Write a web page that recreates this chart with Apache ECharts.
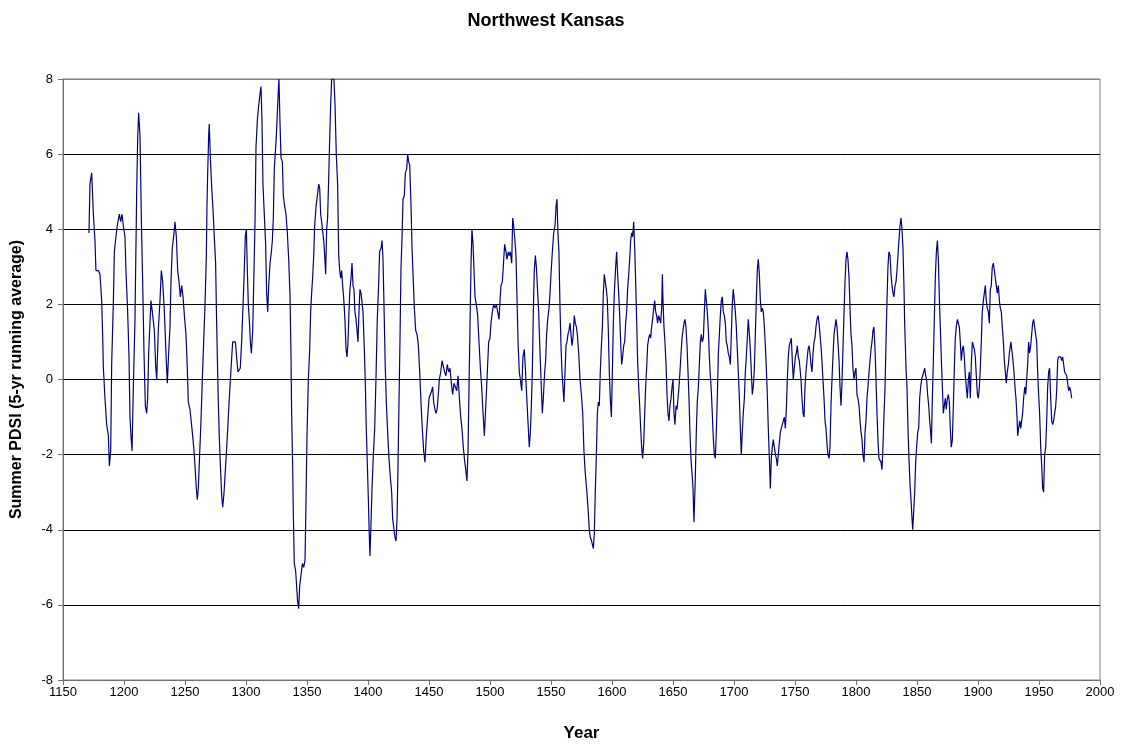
<!DOCTYPE html>
<html>
<head>
<meta charset="utf-8">
<script src="https://cdn.jsdelivr.net/npm/echarts@6/dist/echarts.min.js"></script>
<style>
html,body{margin:0;padding:0;background:#fff;}
#chart{width:1122px;height:747px;}
</style>
</head>
<body>
<div id="chart"></div>
<script>
// Year of each reading
const years = [
1171.3,1172.1,1173.5,1174.9,1176.2,1177.0,1179.0,1180.3,1181.7,1182.5,1183.1,1184.4,1185.8,1187.2,1188.0,1189.1,1189.9,1191.3,1192.1,1193.4,
1194.5,1196.2,1197.3,1198.4,1199.4,1200.8,1201.6,1203.0,1204.1,1204.9,1205.7,1206.6,1207.6,1209.0,1210.4,1211.2,1212.0,1213.1,1214.2,1215.3,
1216.4,1217.5,1218.6,1219.4,1220.2,1221.3,1222.1,1223.2,1224.9,1225.9,1226.8,1228.1,1229.5,1230.6,1231.7,1233.1,1234.4,1235.5,1236.6,1237.7,
1238.5,1239.6,1241.0,1241.8,1242.9,1244.0,1245.1,1246.2,1247.3,1248.4,1249.5,1250.8,1251.9,1252.7,1254.1,1254.9,1256.0,1257.4,1258.2,1259.3,
1260.1,1260.9,1262.0,1263.1,1264.2,1265.3,1266.4,1267.5,1268.0,1268.6,1269.4,1269.9,1270.8,1271.9,1273.0,1274.0,1275.1,1275.7,1276.5,1277.3,
1278.1,1279.0,1280.1,1280.9,1282.0,1283.1,1284.2,1285.2,1286.3,1287.4,1288.3,1289.1,1290.2,1291.3,1292.3,1293.4,1294.5,1295.3,1296.4,1297.5,
1298.6,1299.4,1300.3,1301.1,1301.9,1302.7,1303.6,1304.4,1305.5,1306.3,1307.4,1308.2,1309.3,1310.4,1311.5,1312.3,1313.1,1313.9,1315.0,1316.1,
1316.9,1317.8,1318.6,1319.7,1320.8,1321.6,1322.4,1323.2,
1324.9,1325.7,1326.5,1327.0,1327.9,1328.7,1329.8,1330.6,1331.7,1332.8,1333.9,1335.0,1336.1,1336.9,1337.4,1338.2,1338.8,1339.6,1340.7,1341.5,
1342.3,1343.2,1344.0,1345.1,1346.2,1347.3,1348.4,1349.2,1350.0,1351.1,1352.2,1353.0,1353.8,1354.6,1355.5,1356.3,1357.4,1358.5,1359.6,1360.4,
1361.2,1362.0,1362.8,1363.7,1364.5,1365.3,1366.1,1366.9,1367.8,1368.6,1369.4,1370.2,1371.0,1372.1,1373.0,1374.0,1375.1,1376.0,1376.8,1377.6,
1378.4,1379.2,1380.0,1381.1,1382.0,1382.8,1383.6,1384.4,1385.2,1386.1,1386.9,1387.7,1388.5,1389.3,1390.2,1391.0,1391.8,1392.6,1393.4,1394.3,
1395.1,1395.9,1397.0,1397.8,1398.6,1399.4,1400.3,1401.1,1401.6,1402.2,1403.3,1404.4,1405.5,1406.6,1407.6,1408.7,1409.5,
1410.7,1411.5,1412.3,1413.1,1414.1,1415.0,1416.1,1417.2,1418.3,1419.4,1420.2,1421.3,1422.1,1423.0,1423.8,1424.6,1425.4,1426.2,1427.0,1427.9,
1428.7,1429.8,1430.6,1431.7,1432.5,1433.3,1434.2,1435.2,1436.1,1436.9,1438.0,1439.1,1440.2,1441.3,1442.4,1443.4,1444.5,1445.6,1446.7,1447.8,
1448.9,1450.0,1451.1,1452.2,1453.0,1453.8,1454.9,1455.7,1456.6,1457.4,1458.5,1459.6,1460.7,1461.8,1462.8,1463.9,1465.0,1466.1,1467.2,1468.3,
1469.4,1470.5,1471.6,1472.7,1473.8,1474.9,1476.0,1477.0,1478.1,1479.0,1480.1,1481.1,1482.0,1482.8,1483.6,1484.4,1485.2,1486.1,1486.9,1487.7,
1488.8,1489.9,1491.0,1492.1,1493.2,1494.3,1495.4,
1496.7,1497.8,1498.9,1500.0,1500.8,1501.9,1503.0,1504.1,1505.2,1506.3,1507.4,1508.2,1509.0,1510.1,1510.9,1512.0,1513.1,1513.9,1515.0,1515.8,
1516.7,1517.8,1518.6,1519.4,1520.2,1521.3,1522.1,1523.0,1524.0,1524.9,1526.0,1527.0,1528.1,1529.0,1530.0,1531.1,1532.2,1533.1,1533.9,1534.7,
1535.5,1536.3,1537.2,1538.0,1539.1,1539.9,1540.7,1541.8,1542.9,1543.7,1544.8,1545.6,1546.4,1547.3,1548.4,1549.2,1550.0,1551.1,1552.2,1553.3,
1554.1,1554.9,1555.7,1556.5,1557.4,1558.2,1559.0,1559.8,1560.6,1561.5,1562.3,1563.1,1563.9,1564.7,1565.6,1566.4,1567.2,1568.0,1569.1,1569.9,
1570.8,1571.6,1572.7,1573.8,1574.9,1576.0,1577.0,1578.1,1579.2,1580.3,1581.4,
1582.2,1583.3,1584.7,1585.5,1586.3,1587.2,1588.0,1588.8,1589.6,1590.4,1591.3,1592.1,1592.9,1593.7,1594.5,1595.4,1596.2,1597.0,1597.8,1598.6,
1599.5,1600.3,1601.1,1601.9,1603.0,1603.8,1604.6,1605.5,1606.3,1607.1,1607.9,1608.7,1609.6,1610.4,1611.2,1612.0,1612.8,1613.7,1614.5,1615.3,
1616.1,1616.9,1617.8,1618.6,1619.4,1620.2,1621.0,1621.9,1622.7,1623.5,1624.3,1625.1,1626.0,1626.8,1627.6,1628.4,1629.2,1630.1,1630.9,1631.7,
1632.5,1633.3,1634.2,1635.0,1635.8,1636.6,1637.4,1638.2,1639.1,1639.9,1640.7,1641.3,1641.8,1642.6,1643.4,1644.3,1645.1,1645.9,1646.7,1647.5,
1648.4,1649.2,1650.0,1650.8,1651.6,1652.5,1653.3,1654.1,1654.9,1655.7,1656.6,1657.4,1658.2,1659.0,1659.8,1660.6,1661.5,1662.3,1663.1,1663.9,
1664.7,1665.6,1666.4,1667.2,
1668.3,1669.1,1669.9,1670.8,1671.6,1672.4,1673.2,1674.0,1674.9,1675.7,1676.5,1677.3,1678.1,1679.0,1679.8,1680.6,1681.4,1682.2,1683.1,1683.9,
1684.7,1685.5,1686.3,1687.2,1688.0,1688.8,1689.6,1690.4,1691.2,1692.1,1692.9,1693.7,1694.5,1695.3,1696.2,1697.0,1697.8,1698.6,1699.4,1700.3,
1701.1,1701.9,1702.7,1703.5,1704.4,1705.2,1706.0,1706.8,1707.6,1708.5,1709.3,1710.1,1710.9,1711.7,1712.6,1713.4,1714.2,1715.0,1715.8,1716.7,
1717.5,1718.3,1719.1,1719.9,1720.8,1721.6,1722.4,1723.2,1724.0,1724.9,1725.7,1726.5,1727.3,1728.1,1729.0,1729.8,1730.6,1731.4,1732.2,1733.1,
1733.9,1734.7,1735.5,1736.3,1737.1,1738.0,1738.8,1739.6,1740.4,1741.2,1742.1,1742.9,1743.7,1744.5,1745.3,1746.2,1747.0,1747.8,1748.6,1749.4,
1750.3,1751.1,1751.9,1752.7,1753.5,
1754.1,1754.9,1755.7,1756.6,1757.4,1758.2,1759.0,1759.8,1760.7,1761.5,1762.3,1763.1,1763.9,1764.8,1765.6,1766.4,1767.2,1768.0,1768.9,1769.7,
1770.5,1771.3,1772.1,1772.9,1773.8,1774.6,1775.4,1776.2,1777.0,1777.9,1778.7,1779.5,1780.3,1781.1,1782.0,1782.8,1783.6,1784.4,1785.2,1786.1,
1786.9,1787.7,1788.5,1789.3,1790.2,1791.0,1791.8,1792.6,1793.4,1794.3,1795.1,1795.9,1796.7,1797.5,1798.4,1799.2,1800.0,1800.8,1801.6,1802.5,
1803.3,1804.1,1804.9,1805.7,1806.6,1807.4,1808.2,1809.0,1809.8,1810.7,1811.5,1812.3,1813.1,1813.9,1814.7,1815.6,1816.4,1817.2,1818.0,1818.8,
1819.7,1820.5,1821.3,1822.1,1822.9,1823.8,1824.6,1825.4,1826.2,1827.0,1827.9,1828.7,1829.5,1830.3,1831.1,1832.0,1832.8,1833.6,1834.4,1835.2,
1836.1,1836.9,1837.7,1838.5,1839.3,1839.9,
1841.0,1841.8,1842.6,1843.4,1844.3,1845.1,1845.9,1846.5,1847.3,1848.1,1848.9,1849.7,1850.6,1851.4,1852.2,1853.0,1853.8,1854.6,1855.5,1856.3,
1857.1,1857.9,1858.7,1859.6,1860.4,1861.2,1861.8,1862.6,1863.4,1864.2,1865.0,1865.9,1866.7,1867.5,1868.3,1869.1,1870.0,1870.8,1871.6,1872.4,
1873.2,1874.0,1874.9,1875.7,1876.5,1877.3,1878.1,1879.0,1879.8,1880.6,1881.4,1882.2,1883.1,1883.9,1884.7,1885.5,1886.3,1887.2,1888.0,1888.8,
1889.6,1890.4,1891.3,1892.1,1892.9,1893.7,1894.5,1895.4,1896.2,1897.0,1897.8,1898.6,1899.5,1900.3,1901.1,1901.9,1902.7,1903.5,1904.4,1905.2,
1906.0,1906.8,1907.6,1908.5,1909.3,1910.1,1910.9,1911.7,1912.6,1913.4,1914.2,1915.0,1915.8,1916.7,1917.5,1918.3,1919.1,1919.9,1920.8,1921.6,
1922.4,1923.2,1924.0,1924.9,1925.7,
1926.2,1927.0,1927.9,1928.7,1929.5,1930.3,1931.1,1932.0,1932.5,1933.3,1934.2,1935.0,1935.8,1936.6,1937.4,1938.3,1939.1,1939.9,1940.7,1941.5,
1942.3,1943.2,1944.0,1944.8,1945.6,1946.4,1947.3,1948.1,1948.9,1949.7,1950.5,1951.4,1952.2,1953.0,1953.8,1954.6,1955.5,1956.3,1957.1,1957.9,
1958.7,1959.6,1960.4,1961.2,1962.0,1962.8,1963.7,1964.5,1965.3,1966.1,1966.9,1967.8,1968.6,1969.4,1970.2,1971.0,1971.9,1972.7,1973.5,1974.3,
1975.1,1975.9,1976.8
];

// Summer PDSI, 5-yr running average
const pdsi = [
3.9,5.2,5.5,4.4,3.7,2.9,2.9,2.8,2.1,1.2,0.3,-0.5,-1.2,-1.5,-2.3,-1.9,0.4,2.1,3.4,3.8,
4.1,4.4,4.2,4.4,4.1,3.8,2.9,1.8,0.6,-1.0,-1.5,-1.9,-0.3,1.6,5.0,6.4,7.1,6.5,4.3,2.6,
0.7,-0.7,-0.9,-0.5,0.7,1.5,2.1,1.8,1.3,0.4,0.0,1.3,2.1,2.9,2.6,1.8,0.7,-0.1,0.7,1.4,
2.6,3.5,3.9,4.2,3.8,2.9,2.6,2.2,2.5,2.2,1.7,1.2,0.3,-0.6,-0.8,-0.8,-1.4,-1.9,-2.3,-2.9,
-3.2,-2.9,-2.0,-1.1,0.0,1.0,2.0,3.3,4.6,5.5,6.5,6.8,5.9,5.1,4.5,3.8,3.1,1.9,0.6,-0.6,
-1.5,-2.3,-3.1,-3.4,-3.0,-2.4,-1.8,-1.2,-0.5,0.1,0.6,1.0,1.0,1.0,0.6,0.2,0.2,0.3,1.0,1.9,
2.9,3.8,4.0,2.9,2.0,1.6,1.0,0.7,1.3,2.5,4.2,6.2,6.9,7.3,7.6,7.8,6.9,5.2,4.4,3.6,
2.3,1.8,2.5,3.1,3.4,3.7,4.3,5.6,
6.5,7.1,7.7,8.0,6.8,5.9,5.8,4.9,4.6,4.4,3.9,3.2,2.2,0.6,-0.9,-2.2,-3.6,-4.9,-5.1,-5.5,
-5.9,-6.1,-5.5,-5.2,-4.9,-5.0,-4.8,-3.2,-1.5,0.0,0.8,1.8,2.3,2.7,3.3,4.1,4.6,4.9,5.2,5.1,
4.4,4.2,4.2,3.7,3.3,2.8,4.0,4.3,5.4,6.4,7.3,8.0,8.0,8.0,7.3,6.0,5.2,3.3,2.9,2.7,
2.9,2.5,2.2,1.6,0.8,0.6,1.0,1.8,2.4,2.7,3.1,2.5,2.4,1.8,1.6,1.3,1.0,1.8,2.4,2.3,
2.3,1.8,0.8,-0.1,-1.3,-2.2,-3.2,-4.2,-4.7,-4.1,-2.9,-2.0,-1.3,0.1,1.6,2.5,3.4,
3.5,3.7,3.2,2.0,0.4,-0.6,-1.4,-2.1,-2.6,-3.0,-3.7,-4.0,-4.2,-4.3,-3.7,-2.3,-0.6,1.0,2.9,3.8,
4.8,4.9,5.5,5.6,6.0,5.8,5.7,4.7,3.5,2.8,1.9,1.3,1.2,0.9,0.2,-0.6,-1.3,-1.9,-2.2,-1.5,
-1.0,-0.5,-0.5,-0.3,-0.2,-0.6,-0.8,-0.9,-0.8,-0.5,0.0,0.2,0.5,0.5,0.2,0.1,0.4,0.2,0.3,-0.1,
-0.4,-0.1,-0.2,-0.3,0.1,-0.5,-1.0,-1.3,-1.8,-2.1,-2.4,-2.7,-1.9,-0.2,1.4,3.0,4.0,3.6,2.9,2.2,
2.0,1.7,1.0,0.3,-0.2,-0.9,-1.5,
-0.6,0.2,1.0,1.1,1.5,1.8,2.0,1.9,2.0,1.8,1.6,2.1,2.5,2.6,3.0,3.6,3.4,3.2,3.4,3.3,
3.4,3.1,4.3,4.1,3.8,3.3,2.2,1.0,0.2,0.0,-0.3,0.6,0.8,0.3,-0.4,-1.1,-1.8,-1.4,-0.7,0.2,
1.8,2.9,3.3,3.0,2.3,1.8,1.0,0.0,-0.9,-0.5,0.2,0.5,1.2,1.6,1.9,2.3,2.8,3.4,3.9,4.1,
4.6,4.8,3.9,3.4,1.9,0.9,0.2,-0.2,-0.6,0.2,0.9,1.0,1.2,1.3,1.5,1.2,0.9,1.1,1.7,1.5,
1.4,1.2,0.7,0.0,-0.4,-0.9,-1.9,-2.5,-2.9,-3.4,-4.0,
-4.2,-4.3,-4.5,-4.1,-3.0,-2.0,-0.9,-0.6,-0.7,0.2,0.9,1.4,2.3,2.8,2.6,2.4,2.1,1.3,0.2,-0.5,
-1.0,0.2,1.5,2.3,3.0,3.4,2.8,2.3,1.7,1.0,0.4,0.6,0.9,1.0,1.5,1.8,2.4,2.8,3.2,3.7,
3.9,3.8,4.2,3.5,2.6,1.6,0.5,-0.2,-0.7,-1.3,-1.8,-2.1,-1.7,-0.9,-0.2,0.3,0.9,1.1,1.2,1.1,
1.4,1.6,1.9,2.1,1.8,1.7,1.5,1.7,1.6,1.5,1.9,2.8,2.1,1.4,1.0,0.4,-0.4,-0.9,-1.1,-0.7,
-0.5,-0.2,0.0,-0.9,-1.2,-0.7,-0.8,-0.5,-0.2,0.2,0.7,1.1,1.3,1.5,1.6,1.4,0.9,0.2,-0.5,-1.4,
-2.1,-2.5,-2.9,-3.8,
-2.6,-1.4,-0.6,-0.2,0.4,1.0,1.2,1.0,1.1,1.8,2.4,2.1,1.8,1.3,0.6,0.1,-0.3,-0.9,-1.6,-2.0,
-2.1,-1.4,-0.5,0.7,1.2,1.7,2.1,2.2,1.8,1.7,1.5,1.0,0.9,0.7,0.6,0.4,1.2,2.0,2.4,2.1,
1.8,1.4,0.8,0.2,-0.5,-1.3,-2.0,-1.4,-0.9,-0.5,0.2,0.6,1.1,1.6,1.2,0.8,0.2,-0.4,-0.2,0.3,
1.2,2.1,2.9,3.2,2.8,2.1,1.8,1.9,1.8,1.4,0.9,0.3,-0.4,-1.3,-2.1,-2.9,-2.1,-1.8,-1.6,-1.8,
-2.0,-2.1,-2.3,-2.0,-1.7,-1.4,-1.3,-1.3,-1.1,-1.0,-1.3,-0.8,0.0,0.6,0.9,1.0,1.1,0.5,0.0,0.3,
0.6,0.7,0.9,0.6,0.5,
0.3,0.0,-0.5,-0.9,-1.0,-0.2,0.2,0.5,0.8,0.9,0.7,0.4,0.2,0.7,1.0,1.1,1.4,1.6,1.7,1.5,
1.2,0.9,0.5,0.0,-0.5,-1.1,-1.3,-1.7,-2.0,-2.1,-1.8,-0.7,0.0,0.6,1.2,1.4,1.6,1.4,1.0,0.5,
-0.2,-0.7,-0.1,0.8,1.8,2.6,3.2,3.4,3.2,2.7,1.9,1.2,0.9,0.3,0.0,0.2,0.3,-0.4,-0.5,-0.7,
-1.1,-1.4,-1.6,-2.0,-2.2,-1.4,-1.1,-0.5,-0.2,0.2,0.5,0.8,1.0,1.3,1.4,0.8,0.0,-0.9,-1.6,-2.1,
-2.1,-2.2,-2.4,-1.8,-1.0,-0.2,1.0,2.1,3.0,3.4,3.3,2.8,2.5,2.3,2.2,2.5,2.6,2.9,3.3,3.7,
4.1,4.3,4.0,3.5,2.5,1.5,
0.3,-0.2,-1.3,-2.1,-2.8,-3.2,-3.7,-4.0,-3.5,-3.0,-2.2,-1.8,-1.4,-1.3,-0.5,-0.2,0.0,0.1,0.2,0.3,
0.1,0.0,-0.4,-0.7,-1.1,-1.4,-1.7,-0.5,0.5,1.6,2.7,3.4,3.7,3.2,2.2,1.4,0.5,-0.2,-0.9,-0.7,
-0.5,-0.8,-0.5,-0.4,-0.6,-1.3,-1.8,-1.6,-0.7,0.3,1.1,1.4,1.6,1.6,1.4,1.0,0.5,0.8,0.9,0.6,
0.1,-0.2,-0.5,0.0,0.2,-0.5,0.4,1.0,1.0,0.8,0.6,0.1,-0.4,-0.5,-0.2,0.3,1.0,1.8,2.1,2.3,
2.5,2.1,1.9,1.8,1.5,2.4,2.5,3.0,3.1,2.9,2.7,2.5,2.3,2.5,2.1,1.9,1.8,1.4,1.0,0.5,
0.2,-0.1,0.2,0.4,0.7,
0.7,1.0,1.0,0.5,0.2,-0.2,-0.5,-1.0,-1.5,-1.3,-1.1,-1.3,-1.3,-0.9,-0.5,-0.2,-0.4,0.0,0.4,1.0,
0.7,0.9,1.2,1.5,1.6,1.4,1.4,1.0,0.2,-0.4,-0.9,-1.8,-2.3,-2.9,-3.0,-2.0,-1.8,-1.1,-0.2,0.2,
0.3,-0.5,-1.1,-1.2,-1.1,-0.9,-0.7,-0.3,0.5,0.6,0.6,0.6,0.5,0.6,0.4,0.2,0.2,0.1,-0.1,-0.3,
-0.2,-0.3,-0.5
];

const xTicks = { min: 1150, max: 2000, step: 50 };
const yTicks = { min: -8, max: 8, step: 2 };

const chart = echarts.init(document.getElementById('chart'), null, { renderer: 'canvas' });
const font = '"Liberation Sans", Arial, sans-serif';
const gridLineColors = [];
for (let v = yTicks.min; v <= yTicks.max; v += yTicks.step) {
  gridLineColors.push(v === yTicks.min || v === yTicks.max ? '#808080' : '#000000');
}

chart.setOption({
  animation: false,
  backgroundColor: '#ffffff',
  title: {
    text: 'Northwest Kansas',
    left: 541,
    textAlign: 'center',
    top: 7,
    textStyle: { fontFamily: font, fontSize: 18, fontWeight: 'bold', color: '#000' }
  },
  grid: {
    left: 63, right: 22, top: 79, bottom: 67,
    show: true, borderColor: '#808080', borderWidth: 1, backgroundColor: 'transparent'
  },
  xAxis: {
    type: 'value',
    min: xTicks.min, max: xTicks.max, interval: xTicks.step,
    name: 'Year',
    nameLocation: 'middle',
    nameGap: 45,
    nameTextStyle: { fontFamily: font, fontSize: 17, fontWeight: 'bold', color: '#000' },
    axisLine: { show: true, onZero: false, lineStyle: { color: '#707070', width: 1 } },
    axisTick: { show: true, length: 5, lineStyle: { color: '#707070' } },
    axisLabel: { fontFamily: font, fontSize: 13, color: '#000', margin: 6, formatter: v => String(v) },
    splitLine: { show: false }
  },
  yAxis: {
    type: 'value',
    min: yTicks.min, max: yTicks.max, interval: yTicks.step,
    name: 'Summer PDSI (5-yr running average)',
    nameLocation: 'middle',
    nameGap: 38,
    nameRotate: 90,
    nameTextStyle: { fontFamily: font, fontSize: 16, fontWeight: 'bold', color: '#000' },
    axisLine: { show: true, onZero: false, lineStyle: { color: '#707070', width: 1 } },
    axisTick: { show: true, length: 5, lineStyle: { color: '#707070' } },
    axisLabel: { fontFamily: font, fontSize: 13, color: '#000', margin: 10, formatter: v => String(v) },
    splitLine: { show: true, lineStyle: { color: gridLineColors, width: 1 } }
  },
  series: [{
    type: 'line',
    data: years.map((y, i) => [y, pdsi[i]]),
    showSymbol: false,
    clip: true,
    lineStyle: { color: '#000080', width: 1.2 },
    itemStyle: { color: '#000080' }
  }]
});
</script>
</body>
</html>
